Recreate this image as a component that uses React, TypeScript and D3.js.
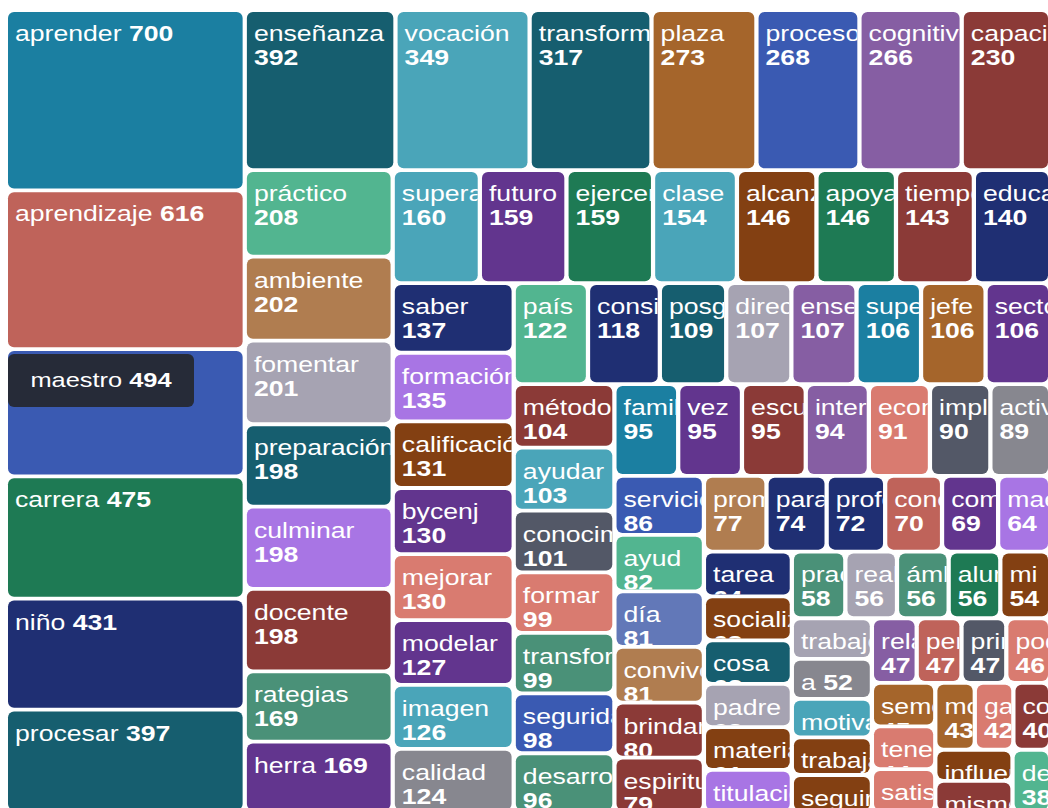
import React, { useMemo } from 'react'
import * as d3 from 'd3'

// word frequencies, already in the order the reference shows them
const words = [
  'aprender', 'aprendizaje', 'maestro', 'carrera', 'niño', 'procesar',
  'enseñanza', 'vocación', 'transformar', 'plaza', 'procesos', 'cognitivo', 'capacidad',
  'práctico', 'ambiente', 'fomentar', 'preparación', 'culminar', 'docente', 'rategias', 'herra',
  'superar', 'futuro', 'ejercer', 'clase', 'alcanzar', 'apoyar', 'tiempo', 'educación',
  'saber', 'formación', 'calificación', 'bycenj', 'mejorar', 'modelar', 'imagen', 'calidad',
  'país', 'consiste', 'posgrado', 'director', 'enseñar', 'superior', 'jefe', 'sector',
  'método', 'ayudar', 'conocimiento', 'formar', 'transformación', 'seguridad', 'desarrollo',
  'familia', 'vez', 'escuela', 'interés', 'economía', 'implica', 'actividad',
  'servicio', 'ayud', 'día', 'convivencia', 'brindar', 'espiritual',
  'promover', 'para', 'profesional', 'concepto', 'comunidad', 'maestría',
  'tarea', 'socialización', 'cosa', 'padre', 'material', 'titulación',
  'practicar', 'realizar', 'ámbito', 'alumno', 'mi',
  'trabajo', 'a', 'motivación', 'trabajar', 'seguir',
  'relación', 'persona', 'primaria', 'poder',
  'semestre', 'tener', 'satisfacción', 'modelo', 'ganar', 'compromiso',
  'influencia', 'mismo', 'desempeño',
]

const counts = [
  700, 616, 494, 475, 431, 397,
  392, 349, 317, 273, 268, 266, 230,
  208, 202, 201, 198, 198, 198, 169, 169,
  160, 159, 159, 154, 146, 146, 143, 140,
  137, 135, 131, 130, 130, 127, 126, 124,
  122, 118, 109, 107, 107, 106, 106, 106,
  104, 103, 101, 99, 99, 98, 96,
  95, 95, 95, 94, 91, 90, 89,
  86, 82, 81, 81, 80, 79,
  77, 74, 72, 70, 69, 64,
  64, 63, 62, 62, 61, 60,
  58, 56, 56, 56, 54,
  53, 52, 50, 49, 48,
  47, 47, 47, 46,
  45, 44, 44, 43, 42, 40,
  39, 39, 38,
]

const colorKeys = [
  'teal', 'salmon', 'blue', 'green', 'navy', 'darkteal',
  'darkteal', 'lightteal', 'darkteal', 'orange', 'blue', 'violet', 'maroon',
  'mint', 'tan', 'greylav', 'darkteal', 'lilac', 'maroon', 'sage', 'purple',
  'lightteal', 'purple', 'green', 'lightteal', 'brown', 'green', 'maroon', 'navy',
  'navy', 'lilac', 'brown', 'purple', 'coral', 'purple', 'lightteal', 'grey',
  'mint', 'navy', 'darkteal', 'greylav', 'violet', 'teal', 'orange', 'purple',
  'maroon', 'lightteal', 'slate', 'coral', 'sage', 'blue', 'sage',
  'teal', 'purple', 'maroon', 'violet', 'coral', 'slate', 'grey',
  'blue', 'mint', 'periwinkle', 'tan', 'maroon', 'maroon',
  'tan', 'navy', 'navy', 'salmon', 'purple', 'lilac',
  'navy', 'brown', 'darkteal', 'greylav', 'brown', 'lilac',
  'sage', 'greylav', 'sage', 'green', 'brown',
  'greylav', 'grey', 'lightteal', 'brown', 'brown',
  'violet', 'salmon', 'slate', 'coral',
  'orange', 'coral', 'coral', 'orange', 'coral', 'maroon',
  'brown', 'maroon', 'mint',
]

const palette: Record<string, string> = {
  teal: '#1b7fa1',
  salmon: '#bf635a',
  blue: '#3a5ab2',
  green: '#1e7a54',
  navy: '#1f2f73',
  darkteal: '#165e6f',
  mint: '#52b590',
  tan: '#b07d50',
  greylav: '#a6a3b2',
  lilac: '#a875e4',
  maroon: '#8b3a37',
  sage: '#4a9178',
  purple: '#62358e',
  lightteal: '#4aa5b9',
  orange: '#a5652b',
  violet: '#865ea3',
  brown: '#834012',
  coral: '#d97b70',
  grey: '#87878f',
  slate: '#535867',
  periwinkle: '#6278b8',
}

const highlighted = 'maestro'

// the layout is computed in a narrower space, then stretched to the page width
const STRETCH = 1.12
const TEXT_STRETCH = 1.21
const FONT = '"Liberation Sans", Arial, Helvetica, sans-serif'
const FONT_SIZE = 22
const left = 8
const top = 12
const outerW = 1040
const innerW = outerW / STRETCH
const innerH = 798

let ctx: CanvasRenderingContext2D | null = null
function textWidth(s: string, bold: boolean) {
  if (!ctx) ctx = document.createElement('canvas').getContext('2d')
  if (!ctx) return s.length * FONT_SIZE * 0.55
  ctx.font = `${bold ? 'bold ' : ''}${FONT_SIZE}px ${FONT}`
  return ctx.measureText(s).width
}

interface Leaf {
  name: string
  value: number
  color: string
}

const App: React.FC = () => {
  const leaves = useMemo(() => {
    const data = {
      name: 'root',
      children: words.map((w, i) => ({
        name: w,
        value: counts[i],
        color: palette[colorKeys[i]],
      })),
    }
    const root = d3
      .hierarchy<any>(data)
      .sum((d) => (d.children ? 0 : d.value))
      .sort((a, b) => (b.value || 0) - (a.value || 0))
    d3.treemap<any>().size([innerW, innerH]).paddingInner(3.8)(root)
    return root.leaves() as d3.HierarchyRectangularNode<Leaf>[]
  }, [])

  const x = d3.scaleLinear().domain([0, innerW]).range([left, left + outerW])
  const y = d3.scaleLinear().domain([0, innerH]).range([top, top + innerH])

  return (
    <div
      style={{
        position: 'fixed',
        left: 0,
        top: 0,
        width: 1048,
        height: 808,
        overflow: 'hidden',
        background: '#fff',
      }}
    >
      <svg width={1048} height={808} style={{ display: 'block' }}>
        <defs>
          {leaves.map((d, i) => (
            <clipPath id={`cell-${i}`} key={i}>
              <rect
                x={x(d.x0)}
                y={y(d.y0)}
                width={x(d.x1) - x(d.x0)}
                height={y(d.y1) - y(d.y0)}
                rx={6}
              />
            </clipPath>
          ))}
        </defs>
        {leaves.map((d, i) => {
          const x0 = x(d.x0)
          const y0 = y(d.y0)
          const w = x(d.x1) - x0
          const h = y(d.y1) - y0
          const name = d.data.name
          const val = String(d.data.value)
          const oneLine =
            (textWidth(name + ' ', false) + textWidth(val, true)) * TEXT_STRETCH + 18 <= w
          const isHi = name === highlighted
          return (
            <g key={i}>
              <rect x={x0} y={y0} width={w} height={h} rx={6} fill={d.data.color} />
              {isHi ? (
                <g>
                  <rect x={x0} y={y0 + 3} width={186} height={53} rx={6} fill="#262b38" />
                  <text
                    transform={`translate(${x0 + 93},${y0 + 36}) scale(${TEXT_STRETCH},1)`}
                    textAnchor="middle"
                    fill="#fff"
                    fontFamily={FONT}
                    fontSize={21}
                  >
                    {name}
                    <tspan fontWeight="bold">{' ' + val}</tspan>
                  </text>
                </g>
              ) : (
                <g clipPath={`url(#cell-${i})`}>
                  <text
                    transform={`translate(${x0 + 7},${y0 + 29}) scale(${TEXT_STRETCH},1)`}
                    fill="#fff"
                    fontFamily={FONT}
                    fontSize={FONT_SIZE}
                  >
                    {name}
                    {oneLine ? (
                      <tspan fontWeight="bold">{' ' + val}</tspan>
                    ) : (
                      <tspan x={0} y={24} fontWeight="bold">
                        {val}
                      </tspan>
                    )}
                  </text>
                </g>
              )}
            </g>
          )
        })}
      </svg>
    </div>
  )
}

export default App
